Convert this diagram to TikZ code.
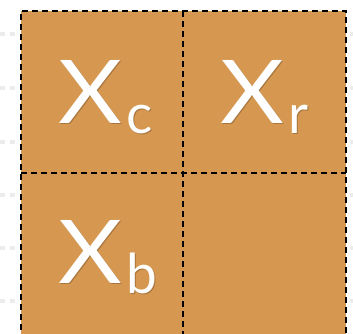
\documentclass[tikz,border=0pt]{standalone}
\usepackage{fontspec}
\setmainfont{Lato}
\usetikzlibrary{calc}
\definecolor{tan}{RGB}{214,152,80}
\definecolor{faint}{RGB}{236,236,236}
\tikzset{
  cellborder/.style={line width=2.4pt, dash pattern=on 6pt off 4pt},
  bigx/.style={text=white, inner sep=0pt, anchor=base, font=\fontsize{88}{88}\selectfont, xscale=1.12},
  subx/.style={text=white, inner sep=0pt, anchor=base west, font=\fontsize{55}{55}\selectfont},
  shadowx/.style={text=black, opacity=0.22},
  ghost/.style={fill=faint, draw=none}
}
\begin{document}
\begin{tikzpicture}[x=1pt,y=-1pt]
\useasboundingbox (0,0) rectangle (353,333);
% faint ghost marks at margins
\foreach \yy in {34,88,142,195,248,301}{
  \fill[ghost] (0,\yy-2) rectangle (5,\yy+2);
  \fill[ghost] (10,\yy-2) rectangle (15,\yy+2);
  \fill[ghost] (350,\yy-2) rectangle (353,\yy+2);
}
\begin{scope}
\clip (0,0) rectangle (353,333);
\fill[tan] (21,11) rectangle (346,340);
\coordinate (tl) at (21,11);
\coordinate (tr) at (346,11);
\coordinate (bl) at (21,340);
\coordinate (br) at (346,340);
\coordinate (mt) at (183,11);
\coordinate (mb) at (183,340);
\coordinate (ml) at (21,173);
\coordinate (mr) at (346,173);
\draw[cellborder] (bl) -- (tl) -- (tr) -- (br);
\draw[cellborder, line width=2pt] (mt) -- (mb);
\draw[cellborder, line width=2pt] (ml) -- (mr);
\end{scope}
% labels
\coordinate (pc) at (90,123);
\coordinate (pr) at (252,123);
\coordinate (pb) at (90,283);
\coordinate (sc) at (126,133);
\coordinate (sr) at (288,133);
\coordinate (sb) at (126,293);
\node[bigx, shadowx] at (91.5,124.5) {X};
\node[bigx] (xc) at (pc) {X};
\node[subx, shadowx] at (127.5,134.5) {c};
\node[subx] (xcs) at (sc) {c};
\node[bigx, shadowx] at (253.5,124.5) {X};
\node[bigx] (xr) at (pr) {X};
\node[subx, shadowx] at (289.5,134.5) {r};
\node[subx] (xrs) at (sr) {r};
\node[bigx, shadowx] at (91.5,284.5) {X};
\node[bigx] (xb) at (pb) {X};
\node[subx, shadowx] at (127.5,294.5) {b};
\node[subx] (xbs) at (sb) {b};
\end{tikzpicture}
\end{document}
